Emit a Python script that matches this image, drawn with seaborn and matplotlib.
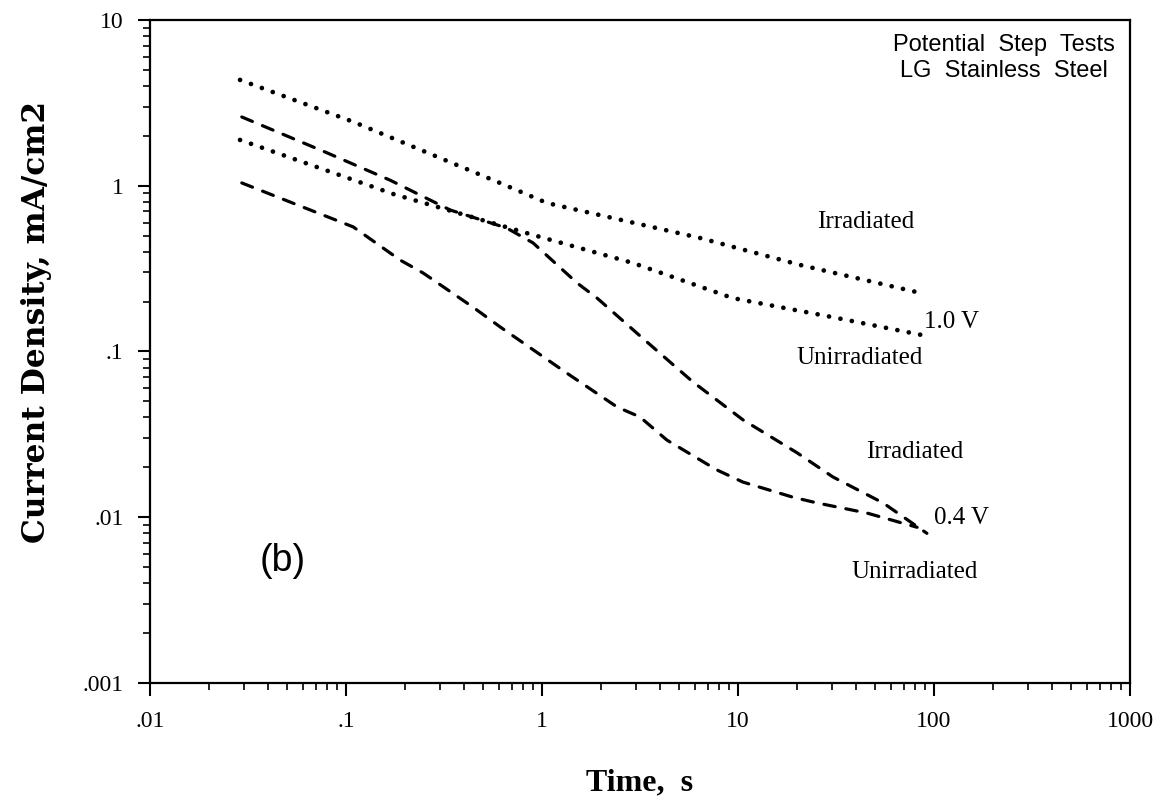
import numpy as np
import pandas as pd
import matplotlib
matplotlib.use("Agg")
import matplotlib.pyplot as plt
import seaborn as sns
from matplotlib.ticker import FixedLocator, FixedFormatter, LogLocator, NullFormatter

# ---- data ----
t_irr_10 = [0.0288, 0.109, 0.61, 1.06, 6.4, 20.7, 86]
i_irr_10 = [4.35, 2.43, 1.04, 0.787, 0.484, 0.333, 0.225]

t_unirr_10 = [0.0288, 0.174, 0.90, 2.91, 9.4, 30.5, 92]
i_unirr_10 = [1.89, 0.892, 0.505, 0.342, 0.21, 0.161, 0.124]

t_irr_04 = [0.0294, 0.080, 0.168, 0.34, 0.66, 0.90, 1.51, 1.91, 3.27, 5.9, 10.6, 20, 30.5, 55, 92]
i_irr_04 = [2.6, 1.58, 1.08, 0.714, 0.556, 0.452, 0.259, 0.21, 0.12, 0.0654, 0.0387, 0.0245, 0.0175, 0.0122, 0.0080]

t_unirr_04 = [0.0294, 0.060, 0.109, 0.189, 0.247, 0.445, 0.61, 1.34, 2.42, 3.16, 4.34, 7.8, 10.6, 19.1, 25.3, 45.5, 82]
i_unirr_04 = [1.04, 0.745, 0.564, 0.356, 0.298, 0.185, 0.141, 0.074, 0.0462, 0.0403, 0.0292, 0.0193, 0.0163, 0.0132, 0.0122, 0.0106, 0.0087]

x_tick_vals = [0.01, 0.1, 1, 10, 100, 1000]
x_tick_labels = [".01", ".1", "1", "10", "100", "1000"]
y_tick_vals = [0.001, 0.01, 0.1, 1, 10]
y_tick_labels = [".001", ".01", ".1", "1", "10"]

curve_labels = ["Irradiated", "1.0 V", "Unirradiated", "Irradiated", "0.4 V", "Unirradiated"]

sns.set_style("ticks")
plt.rcParams["font.family"] = ["Liberation Serif", "DejaVu Serif"]
plt.rcParams["text.color"] = "black"
plt.rcParams["axes.labelcolor"] = "black"

fig = plt.figure(figsize=(11.7, 8.06), dpi=100)
ax = fig.add_axes([150 / 1170, 1 - 683 / 806, 980 / 1170, 663 / 806])


def df(t, i):
    return pd.DataFrame({"t": t, "i": i})


for t, i in [(t_irr_10, i_irr_10), (t_unirr_10, i_unirr_10)]:
    sns.lineplot(data=df(t, i), x="t", y="i", ax=ax, sort=False, estimator=None,
                 color="black", lw=3.4)
    line = ax.lines[-1]
    line.set_linestyle((0, (0.01, 2.45)))
    line.set_dash_capstyle("round")

for t, i in [(t_irr_04, i_irr_04), (t_unirr_04, i_unirr_04)]:
    sns.lineplot(data=df(t, i), x="t", y="i", ax=ax, sort=False, estimator=None,
                 color="black", lw=2.3)
    line = ax.lines[-1]
    line.set_linestyle((0, (3.6, 3.4)))
    line.set_dash_capstyle("round")

ax.set_xscale("log")
ax.set_yscale("log")
ax.set_xlim(0.01, 1000)
ax.set_ylim(0.001, 10)

ax.xaxis.set_major_locator(FixedLocator(x_tick_vals))
ax.xaxis.set_major_formatter(FixedFormatter(x_tick_labels))
ax.yaxis.set_major_locator(FixedLocator(y_tick_vals))
ax.yaxis.set_major_formatter(FixedFormatter(y_tick_labels))
ax.xaxis.set_minor_locator(LogLocator(base=10, subs=np.arange(2, 10)))
ax.yaxis.set_minor_locator(LogLocator(base=10, subs=np.arange(2, 10)))
ax.xaxis.set_minor_formatter(NullFormatter())
ax.yaxis.set_minor_formatter(NullFormatter())

ax.tick_params(which="major", direction="out", length=9, width=1.5, labelsize=17, colors="black")
ax.tick_params(axis="x", which="major", pad=11)
ax.tick_params(axis="y", which="major", pad=10)
ax.tick_params(which="minor", direction="out", length=5, width=1.2, colors="black")
for s in ax.spines.values():
    s.set_visible(True)
    s.set_linewidth(1.6)
    s.set_color("black")

ax.set_xlabel("Time,  s", fontsize=23, fontweight="bold")
ax.xaxis.set_label_coords(0.5, (683 - 768) / 663)
ax.set_ylabel("Current Density, mA/cm2", fontsize=22.5, fontweight="bold",
              family=["DejaVu Serif"])
ax.yaxis.set_label_coords((52 - 150) / 980, (683 - 322) / 663)


def fx(px):
    return (px - 150) / 980


def fy(py):
    return (683 - py) / 663


sans = ["Liberation Sans", "DejaVu Sans"]
ax.text(fx(1004), fy(45), "Potential  Step  Tests", transform=ax.transAxes, ha="center", va="center",
        fontsize=17, family=sans)
ax.text(fx(1004), fy(71), "LG  Stainless  Steel", transform=ax.transAxes, ha="center", va="center",
        fontsize=17, family=sans)
ax.text(fx(283), fy(561), "(b)", transform=ax.transAxes, ha="center", va="center",
        fontsize=27, family=sans)

label_pos = [(866, 222), (952, 322), (860, 358), (915, 452), (962, 518), (915, 572)]
for (px, py), s in zip(label_pos, curve_labels):
    ax.text(fx(px), fy(py), s, transform=ax.transAxes, ha="center", va="center", fontsize=18)

fig.savefig("out.png", dpi=100)
